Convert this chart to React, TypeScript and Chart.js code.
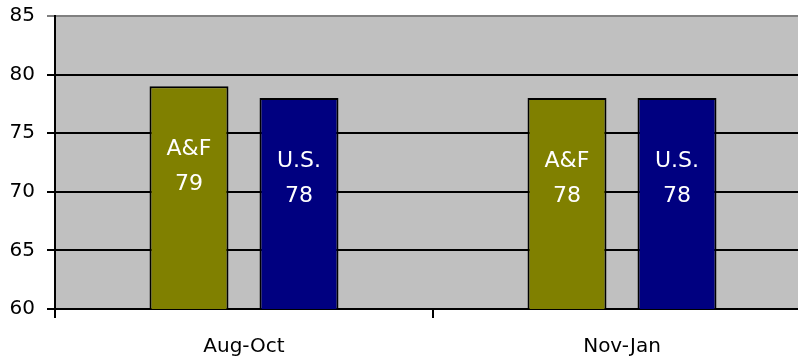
import React, { useEffect, useRef } from "react";
import { Chart, registerables } from "chart.js";

Chart.register(...registerables);

const periods = ["Aug-Oct", "Nov-Jan"];
const seriesNames = ["A&F", "U.S."];
const afScores = [79, 78];
const usScores = [78, 78];
const yTicks = [60, 65, 70, 75, 80, 85];

const FONT = "'DejaVu Sans', Verdana, sans-serif";

// Grey plot background behind the bars
const plotBackground = {
  id: "plotBackground",
  beforeDraw(chart: any) {
    const { ctx, chartArea } = chart;
    ctx.save();
    ctx.fillStyle = "#C0C0C0";
    ctx.fillRect(chartArea.left, chartArea.top, chartArea.right - chartArea.left, chartArea.bottom - chartArea.top);
    ctx.restore();
  },
};

// Two-line white labels (series name + value) inside each bar
const barLabels = {
  id: "barLabels",
  afterDatasetsDraw(chart: any) {
    const { ctx } = chart;
    ctx.save();
    ctx.fillStyle = "#FFFFFF";
    ctx.font = `22px ${FONT}`;
    ctx.textAlign = "center";
    ctx.textBaseline = "middle";
    chart.data.datasets.forEach((ds: any, di: number) => {
      const meta = chart.getDatasetMeta(di);
      meta.data.forEach((bar: any, i: number) => {
        const v = ds.data[i];
        ctx.fillText(ds.label, bar.x, bar.y + 63);
        ctx.fillText(String(v), bar.x, bar.y + 98);
      });
    });
    ctx.restore();
  },
};

export default function App() {
  const ref = useRef<HTMLCanvasElement | null>(null);

  useEffect(() => {
    if (!ref.current) return;
    const chart = new Chart(ref.current, {
      type: "bar",
      data: {
        labels: periods,
        datasets: [
          {
            label: seriesNames[0],
            data: afScores,
            backgroundColor: "#808000",
            borderColor: "#000000",
            borderWidth: 2,
            borderSkipped: false,
          },
          {
            label: seriesNames[1],
            data: usScores,
            backgroundColor: "#000080",
            borderColor: "#000000",
            borderWidth: 2,
            borderSkipped: false,
          },
        ],
      },
      options: {
        responsive: false,
        animation: false,
        devicePixelRatio: 1,
        layout: { padding: { top: 16, left: 0, right: 0, bottom: 0 } },
        datasets: {
          bar: { categoryPercentage: 0.582, barPercentage: 0.718 },
        },
        plugins: {
          legend: { display: false },
          tooltip: { enabled: false },
        },
        scales: {
          x: {
            afterFit: (s: any) => {
              s.height = 53;
              s.paddingLeft = 0;
              s.paddingRight = 0;
            },
            grid: {
              drawOnChartArea: false,
              drawTicks: true,
              tickLength: 9,
              color: "#000000",
              lineWidth: 2,
              offset: true,
            },
            border: { color: "#000000", width: 2 },
            ticks: {
              color: "#000000",
              font: { family: FONT, size: 20 },
              padding: 17,
            },
          },
          y: {
            min: 60,
            max: 85,
            afterFit: (s: any) => {
              s.width = 55;
              s.paddingTop = 0;
              s.paddingBottom = 0;
            },
            afterBuildTicks: (s: any) => {
              s.ticks = yTicks.map((v) => ({ value: v }));
            },
            grid: {
              color: (c: any) => (c.tick && c.tick.value === 85 ? "#808080" : "#000000"),
              lineWidth: 2,
              tickLength: 8,
            },
            border: { color: "#000000", width: 2 },
            ticks: {
              color: "#000000",
              font: { family: FONT, size: 20 },
              padding: 12,
            },
          },
        },
      },
      plugins: [plotBackground, barLabels],
    });
    return () => chart.destroy();
  }, []);

  return (
    <div
      style={{
        position: "fixed",
        left: 0,
        top: 0,
        width: 798,
        height: 362,
        overflow: "hidden",
        background: "#FFFFFF",
      }}
    >
      <canvas ref={ref} width={811} height={362} style={{ display: "block" }} />
    </div>
  );
}
